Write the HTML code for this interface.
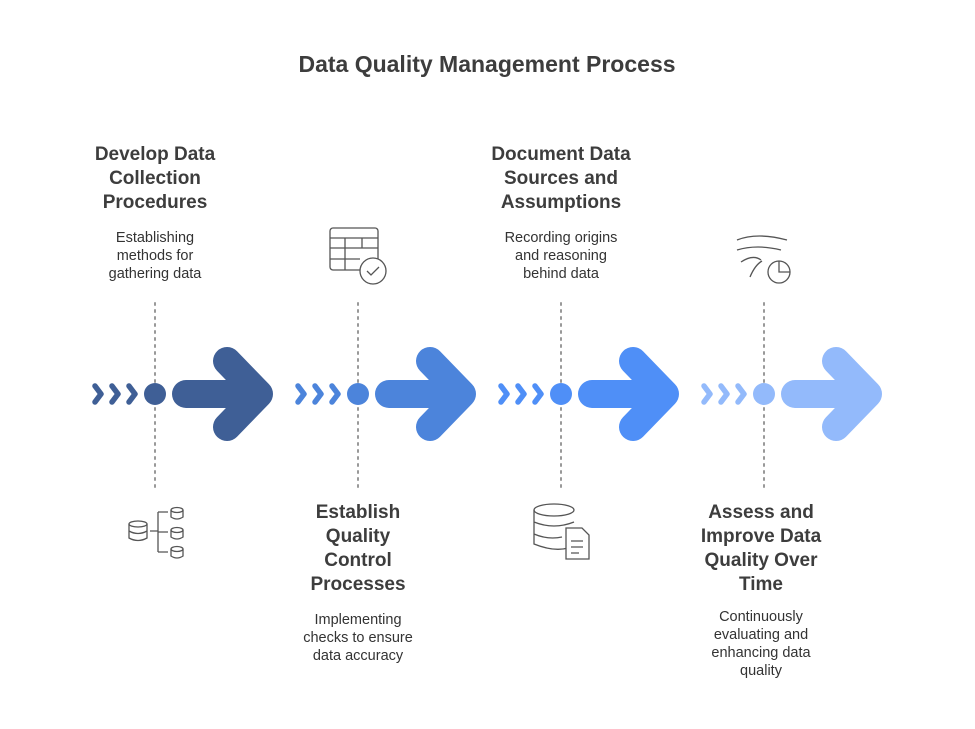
<!DOCTYPE html><html><head><style>
body{margin:0;background:#fff;width:975px;height:729px;overflow:hidden;font-family:"Liberation Sans",Arial,sans-serif}
.t{position:absolute;text-align:center;color:#3d3d3d;font-weight:bold;font-size:19px;line-height:24px;width:200px}
.d{position:absolute;text-align:center;color:#333;font-size:14.5px;line-height:18px;width:160px}
</style></head><body>
<div class="t" style="left:287px;top:52px;width:400px;font-size:23px">Data Quality Management Process</div>
<div class="t" style="left:55px;top:143px">Develop Data<br>Collection<br>Procedures</div>
<div class="d" style="left:75px;top:229px">Establishing<br>methods for<br>gathering data</div>
<div class="t" style="left:461px;top:143px">Document Data<br>Sources and<br>Assumptions</div>
<div class="d" style="left:481px;top:229px">Recording origins<br>and reasoning<br>behind data</div>
<div class="t" style="left:258px;top:501px">Establish<br>Quality<br>Control<br>Processes</div>
<div class="d" style="left:278px;top:611px">Implementing<br>checks to ensure<br>data accuracy</div>
<div class="t" style="left:661px;top:501px">Assess and<br>Improve Data<br>Quality Over<br>Time</div>
<div class="d" style="left:681px;top:608px">Continuously<br>evaluating and<br>enhancing data<br>quality</div>
<svg width="975" height="729" style="position:absolute;left:0;top:0">
<g stroke-linecap="round" stroke-linejoin="round" fill="none">
<g stroke="#999" stroke-width="2" stroke-dasharray="2 5">
<line x1="155" y1="303" x2="155" y2="490"/><line x1="358" y1="303" x2="358" y2="490"/>
<line x1="561" y1="303" x2="561" y2="490"/><line x1="764" y1="303" x2="764" y2="490"/></g>
</g>
<defs><g id="g">
<path d="M-60 386l6 8-6 8M-43 386l6 8-6 8M-26 386l6 8-6 8" stroke-width="5.5" fill="none" stroke-linecap="round" stroke-linejoin="round"/>
<circle cx="0" cy="394" r="11" stroke="none"/>
<path d="M31 394H103M72 361l32 33-32 33" stroke-width="28" fill="none" stroke-linecap="round" stroke-linejoin="round"/>
</g></defs>
<use href="#g" x="155" fill="#3F5F96" stroke="#3F5F96"/>
<use href="#g" x="358" fill="#4C84DB" stroke="#4C84DB"/>
<use href="#g" x="561" fill="#4F8FF7" stroke="#4F8FF7"/>
<use href="#g" x="764" fill="#93BAFB" stroke="#93BAFB"/>
<g stroke="#555" stroke-width="1.3" fill="none">
<rect x="330" y="228" width="48" height="42" rx="3"/><path d="M330 238h48M330 248h48M330 259h30M345 238v32M362 238v10"/>
<circle cx="373" cy="271" r="13" fill="#fff"/><path d="M367 271l4 4 8-8"/>
<path d="M737 240q20-8 50 0M737 250q20-6 44 0M741 262q12-8 20-2M750 277q5-12 12-16"/><circle cx="779" cy="272" r="11"/><path d="M779 261v11h11"/>
<ellipse cx="138" cy="524" rx="9" ry="3"/><path d="M129 524v14q9 5 18 0v-14M129 531q9 5 18 0"/>
<ellipse cx="177" cy="510" rx="6" ry="2.5"/><path d="M171 510v7q6 4 12 0v-7"/>
<ellipse cx="177" cy="530" rx="6" ry="2.5"/><path d="M171 530v7q6 4 12 0v-7"/>
<ellipse cx="177" cy="549" rx="6" ry="2.5"/><path d="M171 549v7q6 4 12 0v-7"/>
<path d="M150 531h8M158 512v40M158 512h10M158 532h10M158 552h10"/>
<ellipse cx="554" cy="510" rx="20" ry="6"/><path d="M534 510v34q20 8 34 4M534 522q20 8 40 0M534 534q14 6 28 3"/>
<path d="M566 528h16l7 7v24h-23z" fill="#fff"/><path d="M571 541h12M571 547h12M571 553h8"/>
</g></svg>
</body></html>
